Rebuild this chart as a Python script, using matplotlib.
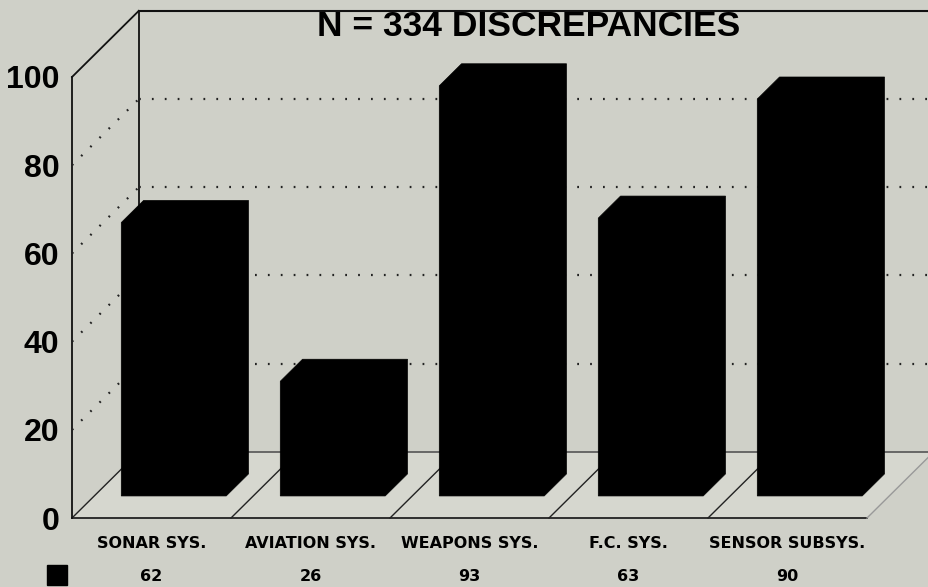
import matplotlib

matplotlib.use("Agg")
import matplotlib.pyplot as plt
from matplotlib.patches import Polygon

# Chart data
categories = ["SONAR SYS.", "AVIATION SYS.", "WEAPONS SYS.", "F.C. SYS.", "SENSOR SUBSYS."]
counts = [62, 26, 93, 63, 90]
y_ticks = [0, 20, 40, 60, 80, 100]
title = "N = 334 DISCREPANCIES"

BG = "#cfd0c8"
FLOOR = "#d6d7cf"

# depth offset of the 3D box (x in category units, y in value units)
DX = 0.42
DY = 15.0

plt.rcParams["font.family"] = ["Liberation Sans", "DejaVu Sans"]
small_font = ["DejaVu Sans"]

fig = plt.figure(figsize=(9.29, 5.87), dpi=100, facecolor=BG)
W, H = 929, 587
ax = fig.add_axes([72 / W, (H - 518) / H, 795 / W, 441 / H])
ax.set_facecolor("none")
ax.set_xlim(0, len(categories))
ax.set_ylim(0, 100)
for s in ax.spines.values():
    s.set_visible(False)

n = len(categories)

# Floor
floor = Polygon(
    [(0, 0), (n, 0), (n + DX, DY), (DX, DY)],
    closed=True, facecolor=FLOOR, edgecolor="none", zorder=1, clip_on=False,
)
ax.add_patch(floor)
ax.plot([0, n], [0, 0], color="#222222", lw=1.3, zorder=2, clip_on=False)
ax.plot([DX, n + DX], [DY, DY], color="#555555", lw=1.2, zorder=2, clip_on=False)
for i in range(n + 1):
    col = "#999999" if i == n else "#222222"
    ax.plot([i, i + DX], [0, DY], color=col, lw=1.0, zorder=2, clip_on=False)

# Walls
ax.plot([0, 0], [0, 100], color="#111111", lw=1.3, zorder=2, clip_on=False)
ax.plot([DX, DX], [DY, 100 + DY], color="#111111", lw=1.3, zorder=2, clip_on=False)
ax.plot([0, DX], [100, 100 + DY], color="#111111", lw=1.3, zorder=2, clip_on=False)
ax.plot([DX, n + DX], [100 + DY, 100 + DY], color="#111111", lw=1.5, zorder=2, clip_on=False)

# Dotted grid on back and side walls
for v in y_ticks[1:-1]:
    ax.plot([DX, n + DX], [v + DY, v + DY], color="#222222", lw=1.6,
            ls=(0, (0.8, 5)), zorder=2, clip_on=False)
    ax.plot([0, DX], [v, v + DY], color="#222222", lw=1.6,
            ls=(0, (0.8, 5)), zorder=2, clip_on=False)

# Bars (box silhouettes sitting in the middle third of the floor depth)
w = 0.33
ox1, oy1 = DX / 3, DY / 3
ox2, oy2 = 2 * DX / 3, 2 * DY / 3
for i, v in enumerate(counts):
    c = i + 0.5
    pts = [
        (c - w + ox1, oy1),
        (c - w + ox1, v + oy1),
        (c - w + ox2, v + oy2),
        (c + w + ox2, v + oy2),
        (c + w + ox2, oy2),
        (c + w + ox1, oy1),
    ]
    ax.add_patch(Polygon(pts, closed=True, facecolor="black", edgecolor="black",
                         lw=0.5, zorder=3, clip_on=False))

# Axis labels
ax.set_yticks(y_ticks)
ax.set_yticklabels([str(t) for t in y_ticks], fontsize=23, fontweight="bold")
ax.set_xticks([i + 0.5 for i in range(n)])
ax.set_xticklabels(categories, fontsize=11.5, fontweight="bold", family=small_font)
ax.tick_params(axis="y", length=0, pad=9)
ax.tick_params(axis="x", length=0, pad=13)

# Data table row
ax.plot([-0.095], [-13.0], marker="s", ms=14, color="black", clip_on=False)
for i, v in enumerate(counts):
    ax.text(i + 0.5, -13.2, str(v), ha="center", va="center",
            fontsize=11.5, fontweight="bold", family=small_font, clip_on=False)

fig.text(529 / W, 1 - 26 / H, title, ha="center", va="center",
         fontsize=25.5, fontweight="bold")

fig.savefig("out.png", dpi=100, facecolor=BG)
